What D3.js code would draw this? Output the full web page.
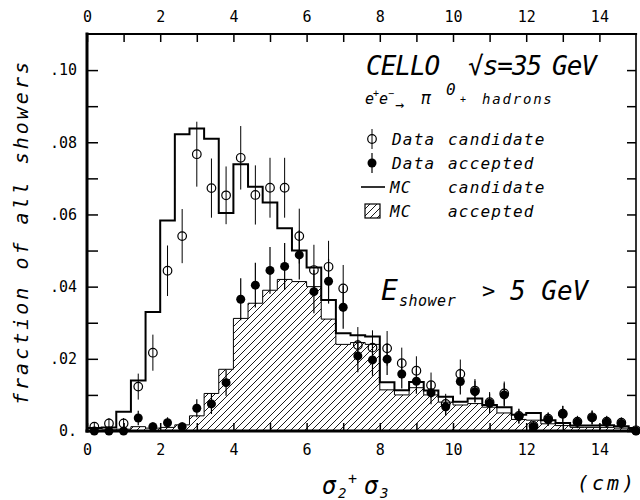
<!DOCTYPE html>
<html><head><meta charset="utf-8">
<script src="https://cdn.jsdelivr.net/npm/d3@7/dist/d3.min.js"></script>
<style>body{margin:0;background:#fff}svg{display:block}</style>
</head><body><svg id="c" width="640" height="500"></svg>
<script>
// ---------------- data ----------------
const xCenters = [0.2,0.6,1.0,1.4,1.8,2.2,2.6,3.0,3.4,3.8,4.2,4.6,5.0,5.4,5.8,6.2,6.6,7.0,7.4,7.8,
  8.2,8.6,9.0,9.4,9.8,10.2,10.6,11.0,11.4,11.8,12.2,12.6,13.0,13.4,13.8,14.2,14.6,15.0];
const binWidth = 0.4;
const mcCandidate = [0.0008,0.0010,0.0053,0.0140,0.0330,0.0583,0.0822,0.0838,0.0810,0.0604,
  0.0739,0.0677,0.0633,0.0562,0.0500,0.0453,0.0363,0.0271,0.0265,0.0262,
  0.0135,0.0113,0.0136,0.0112,0.0095,0.0081,0.0090,0.0072,0.0066,0.0045,
  0.0050,0.0030,0.0022,0.0015,0.0015,0.0016,0.0013,0.0008];
const mcAccepted = [0.0002,0.0003,0.0005,0.0012,0.0008,0.0010,0.0017,0.0042,0.0104,0.0171,
  0.0312,0.0354,0.0390,0.0420,0.0414,0.0400,0.0310,0.0240,0.0245,0.0240,
  0.0114,0.0100,0.0120,0.0100,0.0080,0.0072,0.0076,0.0066,0.0050,0.0032,
  0.0030,0.0020,0.0015,0.0010,0.0010,0.0010,0.0008,0.0004];
const dataCandidate = [0.0012,0.0021,0.0021,0.0123,0.0217,0.0444,0.0540,0.0767,0.0673,0.0653,
  0.0757,0.0654,0.0674,0.0674,0.0540,0.0446,0.0455,0.0395,0.0238,0.0231,
  0.0229,0.0188,0.0167,0.0127,0.0075,0.0158,0.0112,0.0080,0.0104,0.0042,
  0.0014,0.0034,0.0048,0.0026,0.0038,0.0026,0.0023,0.0002];
const dataCandidateErr = [0.0012,0.0015,0.0015,0.0036,0.0050,0.0070,0.0075,0.0090,0.0082,0.0080,
  0.0088,0.0082,0.0083,0.0083,0.0076,0.0070,0.0072,0.0065,0.0050,0.0048,
  0.0048,0.0043,0.0040,0.0035,0.0028,0.0040,0.0032,0.0028,0.0033,0.0020,
  0.0012,0.0018,0.0022,0.0016,0.0019,0.0016,0.0015,0.0005];
const dataAccepted = [0.0000,0.0000,0.0000,0.0036,0.0012,0.0023,0.0012,0.0063,0.0075,0.0134,
  0.0365,0.0404,0.0445,0.0456,0.0488,0.0386,0.0415,0.0343,0.0208,0.0197,
  0.0199,0.0158,0.0138,0.0106,0.0067,0.0137,0.0109,0.0077,0.0100,0.0040,
  0.0012,0.0032,0.0047,0.0024,0.0037,0.0024,0.0021,0.0000];
const dataAcceptedErr = [0.0008,0.0008,0.0008,0.0020,0.0012,0.0015,0.0012,0.0025,0.0028,0.0036,
  0.0058,0.0062,0.0065,0.0065,0.0068,0.0060,0.0062,0.0060,0.0045,0.0044,
  0.0044,0.0040,0.0035,0.0032,0.0025,0.0036,0.0030,0.0027,0.0032,0.0020,
  0.0012,0.0018,0.0022,0.0016,0.0019,0.0016,0.0015,0.0005];
const xTickValues = [0,1,2,3,4,5,6,7,8,9,10,11,12,13,14];
const xTickLabels = ["0","","2","","4","","6","","8","","10","","12","","14"];
const yTickValues = [0,0.01,0.02,0.03,0.04,0.05,0.06,0.07,0.08,0.09,0.10];
const yTickLabels = ["0.","",".02","",".04","",".06","",".08","",".10"];

// ---------------- chart ----------------
const svg = d3.select("#c");
const x = d3.scaleLinear().domain([0, 15]).range([87, 636]);
const y = d3.scaleLinear().domain([0, 0.11]).range([431, 34]);
const mono = "'DejaVu Sans Mono', 'Liberation Mono', monospace";

const defs = svg.append("defs");
const pat = defs.append("pattern").attr("id","hatch").attr("patternUnits","userSpaceOnUse")
  .attr("width",7).attr("height",7);
pat.append("path").attr("d","M-1,1 l2,-2 M0,7 l7,-7 M6,8 l2,-2")
  .attr("stroke","#000").attr("stroke-width",0.9);
defs.append("clipPath").attr("id","plot").append("rect")
  .attr("x",x(0)).attr("y",y(0.11)).attr("width",x(15)-x(0)).attr("height",y(0)-y(0.11));

function steps(vals){
  const pts = [[xCenters[0]-binWidth/2, 0]];
  vals.forEach((v,i)=>{ pts.push([xCenters[i]-binWidth/2, v]); pts.push([xCenters[i]+binWidth/2, v]); });
  pts.push([xCenters[xCenters.length-1]+binWidth/2, 0]);
  return pts;
}
const g = svg.append("g").attr("clip-path","url(#plot)");
g.append("path").datum(steps(mcAccepted))
  .attr("d", d3.area().x(d=>x(d[0])).y0(y(0)).y1(d=>y(d[1])))
  .attr("fill","url(#hatch)").attr("stroke","#000").attr("stroke-width",1);
g.append("path").datum(steps(mcCandidate))
  .attr("d", d3.line().x(d=>x(d[0])).y(d=>y(d[1])))
  .attr("fill","none").attr("stroke","#000").attr("stroke-width",2);

const pg = svg.append("g");
xCenters.forEach((c,i)=>{
  const lo1 = Math.max(0, dataCandidate[i]-dataCandidateErr[i]);
  pg.append("line").attr("x1",x(c)).attr("x2",x(c))
    .attr("y1",y(lo1)).attr("y2",y(dataCandidate[i]+dataCandidateErr[i]))
    .attr("stroke","#000").attr("stroke-width",1);
  const lo2 = Math.max(0, dataAccepted[i]-dataAcceptedErr[i]);
  pg.append("line").attr("x1",x(c)).attr("x2",x(c))
    .attr("y1",y(lo2)).attr("y2",y(dataAccepted[i]+dataAcceptedErr[i]))
    .attr("stroke","#000").attr("stroke-width",1.2);
});
pg.selectAll("circle.cand").data(xCenters).join("circle").attr("class","cand")
  .attr("cx",d=>x(d)).attr("cy",(d,i)=>y(dataCandidate[i])).attr("r",4.3)
  .attr("fill","none").attr("stroke","#000").attr("stroke-width",1.2);
pg.selectAll("circle.acc").data(xCenters).join("circle").attr("class","acc")
  .attr("cx",d=>x(d)).attr("cy",(d,i)=>y(dataAccepted[i])).attr("r",4.5)
  .attr("fill","#000");

// axes
function styleAxis(sel){
  sel.select(".domain").remove();
  sel.selectAll(".tick line").attr("stroke","#000").attr("stroke-width",1.5);
  sel.selectAll("text").attr("font-family",mono).attr("font-size",15).attr("fill","#000");
}
svg.append("g").attr("transform",`translate(0,${y(0)})`)
  .call(d3.axisBottom(x).tickValues(xTickValues).tickSizeInner(-8).tickSizeOuter(0).tickPadding(13)
    .tickFormat((d,i)=>xTickLabels[i])).call(styleAxis);
svg.append("g").attr("transform",`translate(0,${y(0.11)})`)
  .call(d3.axisTop(x).tickValues(xTickValues).tickSizeInner(-8).tickSizeOuter(0).tickPadding(12)
    .tickFormat((d,i)=>xTickLabels[i])).call(styleAxis);
svg.append("g").attr("transform",`translate(${x(0)},0)`)
  .call(d3.axisLeft(y).tickValues(yTickValues).tickSizeInner(-11).tickSizeOuter(0).tickPadding(10)
    .tickFormat((d,i)=>yTickLabels[i])).call(styleAxis);
svg.append("g").attr("transform",`translate(${x(15)},0)`)
  .call(d3.axisRight(y).tickValues(yTickValues).tickSizeInner(-9).tickSizeOuter(0)
    .tickFormat("")).call(styleAxis);

// frame
const fr = svg.append("g").attr("stroke","#000").attr("stroke-linecap","square");
fr.append("line").attr("x1",x(0)).attr("x2",x(15)).attr("y1",y(0.11)).attr("y2",y(0.11)).attr("stroke-width",2.2);
fr.append("line").attr("x1",x(0)).attr("x2",x(15)).attr("y1",y(0)).attr("y2",y(0)).attr("stroke-width",3);
fr.append("line").attr("x1",x(0)).attr("x2",x(0)).attr("y1",y(0)).attr("y2",y(0.11)).attr("stroke-width",3);
fr.append("line").attr("x1",x(15)).attr("x2",x(15)).attr("y1",y(0)).attr("y2",y(0.11)).attr("stroke-width",1.6);

// axis titles
svg.append("text").attr("transform","translate(28,232) rotate(-90)").attr("text-anchor","middle")
  .attr("font-family",mono).attr("font-style","italic").attr("font-size",20).attr("letter-spacing",3)
  .text("fraction of all showers");
function t(xp, yp, s, size, extra){
  const e = svg.append("text").attr("x",xp).attr("y",yp).attr("font-family",mono)
    .attr("font-style","italic").attr("font-size",size).text(s);
  if (extra) Object.entries(extra).forEach(([k,v])=>e.attr(k,v));
  return e;
}
t(322,494,"σ",24); t(338,498,"2",14); t(348,484,"+",15); t(364,494,"σ",24); t(380,498,"3",14);
t(577,490,"(cm)",20,{"letter-spacing":3});

// title block
t(366,75,"CELLO",26,{"letter-spacing":-1});
t(468,75,"√s=35",26,{"letter-spacing":-1});
t(552,75,"GeV",26,{"letter-spacing":-1});
t(365,104,"e",15); t(373,97,"+",10); t(379,104,"e",15); t(388,97,"−",10);
t(395,110,"→",15); t(421,104,"π",17); t(446,95,"0",16); t(460,103,"+",10);
t(482,104,"hadrons",14,{"letter-spacing":1.8});

// legend
const lg = svg.append("g");
lg.append("line").attr("x1",372).attr("x2",372).attr("y1",129).attr("y2",149).attr("stroke","#000");
lg.append("circle").attr("cx",372).attr("cy",139).attr("r",4.3).attr("fill","none").attr("stroke","#000").attr("stroke-width",1.2);
lg.append("line").attr("x1",372).attr("x2",372).attr("y1",153).attr("y2",173).attr("stroke","#000").attr("stroke-width",1.2);
lg.append("circle").attr("cx",372).attr("cy",163).attr("r",4.5).attr("fill","#000");
lg.append("line").attr("x1",361).attr("x2",385).attr("y1",187).attr("y2",187).attr("stroke","#000").attr("stroke-width",1.6);
lg.append("rect").attr("x",365).attr("y",204).attr("width",15).attr("height",14)
  .attr("fill","url(#hatch)").attr("stroke","#000").attr("stroke-width",1.2);
const lgs = {"letter-spacing":1.2};
t(392,145,"Data",16,lgs); t(448,145,"candidate",16,lgs);
t(392,169,"Data",16,lgs); t(448,169,"accepted",16,lgs);
t(390,193,"MC",16,lgs); t(448,193,"candidate",16,lgs);
t(390,217,"MC",16,lgs); t(448,217,"accepted",16,lgs);

// energy cut
t(381,300,"E",28);
t(399,306,"shower",15,{"letter-spacing":0.5});
t(482,298,">",22);
t(510,300,"5 GeV",26);
</script></body></html>
